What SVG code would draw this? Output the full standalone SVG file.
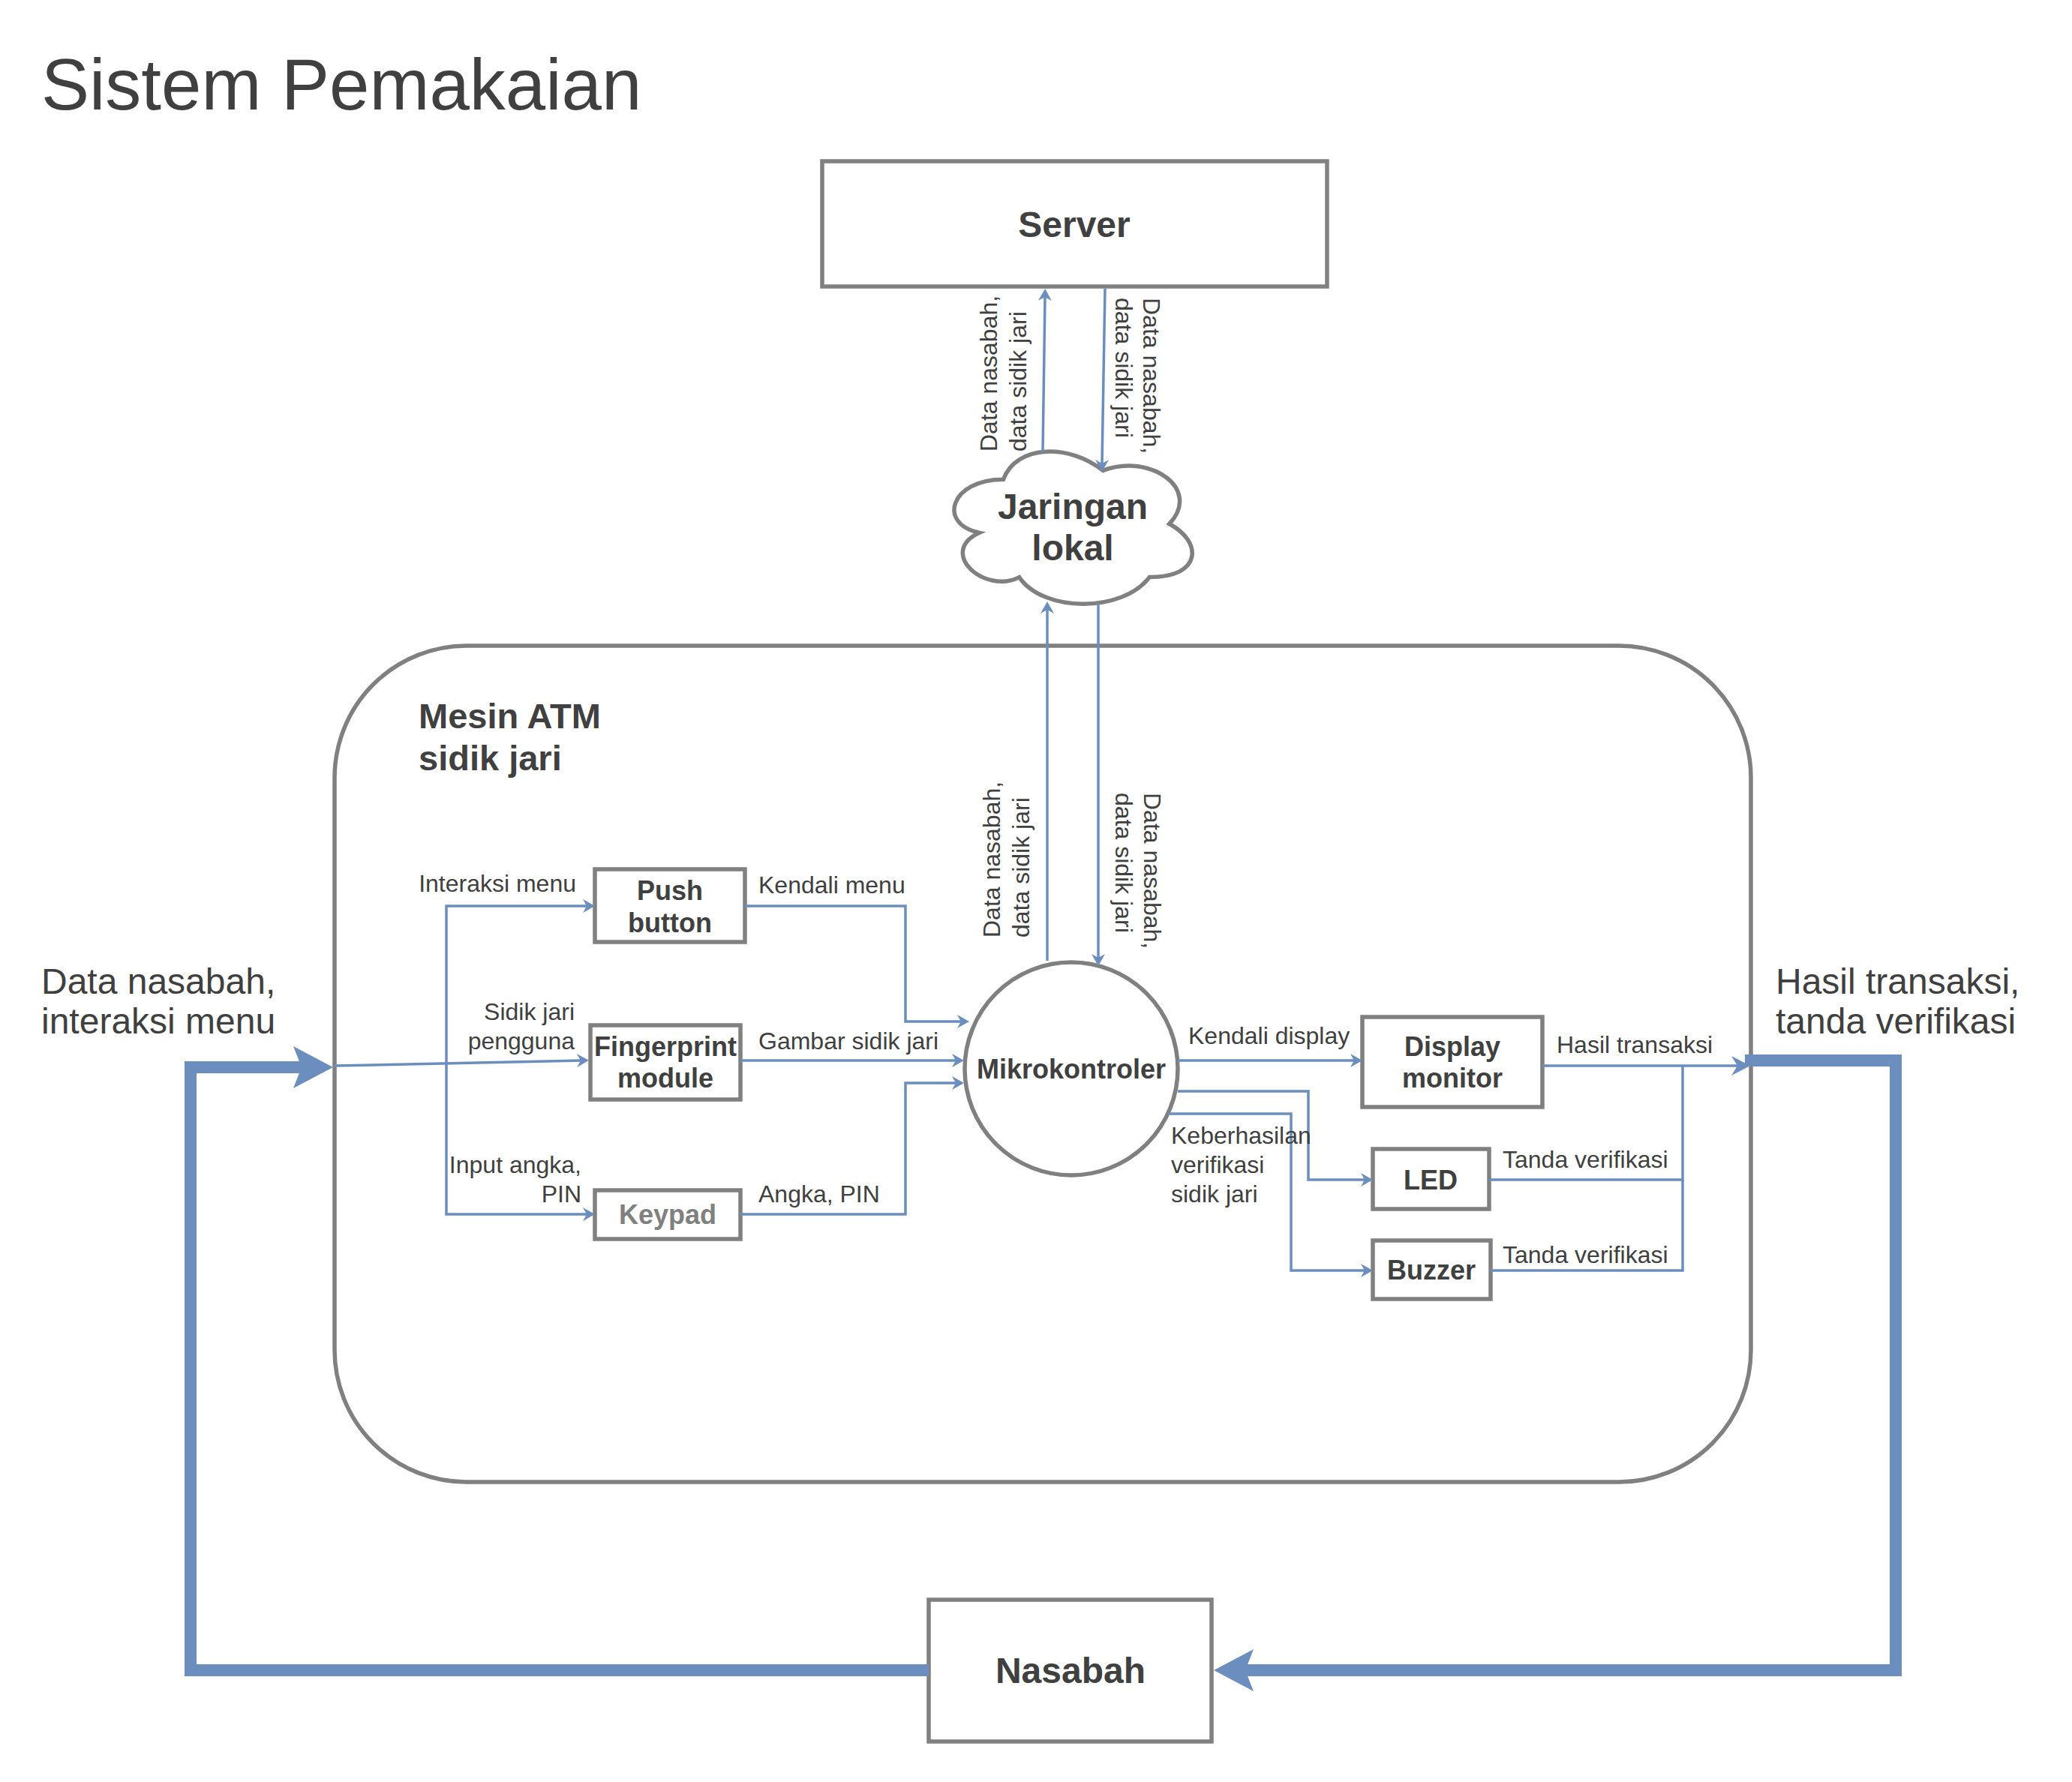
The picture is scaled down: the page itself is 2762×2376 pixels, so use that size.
<svg xmlns="http://www.w3.org/2000/svg" width="2762" height="2376" viewBox="0 0 2762 2376">
<style>
text{font-family:"Liberation Sans",Arial,sans-serif;fill:#404040}
.b{font-weight:bold}
.n{fill:#fff;stroke:#808080;stroke-width:5.5}
.c{fill:none;stroke:#6c8ebf;stroke-width:3.5}
.t{fill:none;stroke:#6c8ebf;stroke-width:16;stroke-linejoin:miter}
.s{font-size:32px}
.L{font-size:48px}
.m{font-size:36px;font-weight:bold;text-anchor:middle}
</style>
<defs>
<marker id="a" markerUnits="userSpaceOnUse" markerWidth="16" markerHeight="18" viewBox="0 0 16 18" refX="5" refY="9" orient="auto">
<path d="M0,0 L16,9 L0,18 L5,9 Z" fill="#6c8ebf"/>
</marker>
<marker id="M" markerUnits="userSpaceOnUse" markerWidth="25" markerHeight="26" viewBox="0 0 25 26" refX="8" refY="13" orient="auto">
<path d="M0,0 L25,13 L0,26 L8,13 Z" fill="#6c8ebf"/>
</marker>
<marker id="B" markerUnits="userSpaceOnUse" markerWidth="53" markerHeight="56" viewBox="0 0 53 56" refX="11" refY="28" orient="auto">
<path d="M0,0 L53,28 L0,56 L11,28 Z" fill="#6c8ebf"/>
</marker>
</defs>
<rect width="2762" height="2376" fill="#fff"/>
<text x="55" y="146" style="font-size:96px">Sistem Pemakaian</text>

<g id="container">
<rect class="n" x="446" y="861" width="1888" height="1115" rx="176" ry="176"/>
<text class="b" x="558" y="971" style="font-size:47px">Mesin ATM</text>
<text class="b" x="558" y="1027" style="font-size:47px">sidik jari</text>
</g>

<g id="server">
<rect class="n" x="1096" y="215" width="673" height="167"/>
<text class="b" x="1432" y="316" style="font-size:48px" text-anchor="middle">Server</text>
</g>

<g id="jaringan">
<path class="n" d="M1337.5,639.25 C1266.7,639.25 1249,698.5 1305.6,710.35 C1249,736.4 1312.7,793.3 1358.7,769.6 C1390.6,817 1496.8,817 1532.2,769.6 C1603,769.6 1603,722.2 1558.75,698.5 C1603,651.1 1532.2,603.7 1470.25,627.4 C1426,591.85 1355.2,591.85 1337.5,639.25 Z"/>
<text class="b" x="1430" y="692" style="font-size:48px" text-anchor="middle">Jaringan</text>
<text class="b" x="1430" y="747" style="font-size:48px" text-anchor="middle">lokal</text>
</g>

<g id="push-button">
<rect class="n" x="793" y="1159" width="200" height="97"/>
<text class="m" x="893" y="1200">Push</text>
<text class="m" x="893" y="1243">button</text>
</g>

<g id="fingerprint">
<rect class="n" x="787" y="1367" width="200" height="99"/>
<text class="m" x="887" y="1408">Fingerprint</text>
<text class="m" x="887" y="1450">module</text>
</g>

<g id="keypad">
<rect class="n" x="793" y="1587" width="194" height="65"/>
<text class="m" x="890" y="1632" style="fill:#808080">Keypad</text>
</g>

<g id="mikrokontroler">
<circle class="n" cx="1428" cy="1425" r="142"/>
<text class="m" x="1428" y="1438">Mikrokontroler</text>
</g>

<g id="display">
<rect class="n" x="1816" y="1356" width="240" height="120"/>
<text class="m" x="1936" y="1408">Display</text>
<text class="m" x="1936" y="1450">monitor</text>
</g>

<g id="led">
<rect class="n" x="1830" y="1532" width="155" height="80"/>
<text class="m" x="1907" y="1586">LED</text>
</g>

<g id="buzzer">
<rect class="n" x="1830" y="1654" width="157" height="78"/>
<text class="m" x="1908" y="1706">Buzzer</text>
</g>

<g id="nasabah">
<rect class="n" x="1238" y="2133" width="377" height="189"/>
<text class="b" x="1427" y="2244" style="font-size:48px" text-anchor="middle">Nasabah</text>
</g>

<g id="connectors">
<path class="c" d="M1390,603 L1393,396" marker-end="url(#a)"/>
<path class="c" d="M1473,385 L1469,618" marker-end="url(#a)"/>
<path class="c" d="M1396,1281 L1396,813" marker-end="url(#a)"/>
<path class="c" d="M1464,805 L1464,1277" marker-end="url(#a)"/>
<path class="c" d="M446,1421 L774,1414" marker-end="url(#a)"/>
<path class="c" d="M595,1419 L595,1208 L782,1208" marker-end="url(#a)"/>
<path class="c" d="M595,1419 L595,1619 L782,1619" marker-end="url(#a)"/>
<path class="c" d="M993,1208 L1207,1208 L1207,1362 L1281,1362" marker-end="url(#a)"/>
<path class="c" d="M987,1414 L1274,1414" marker-end="url(#a)"/>
<path class="c" d="M987,1619 L1207,1619 L1207,1444 L1274,1444" marker-end="url(#a)"/>
<path class="c" d="M1570,1414 L1805,1414" marker-end="url(#a)"/>
<path class="c" d="M1570,1455 L1744,1455 L1744,1573 L1819,1573" marker-end="url(#a)"/>
<path class="c" d="M1557,1485 L1721,1485 L1721,1694 L1819,1694" marker-end="url(#a)"/>
<path class="c" d="M2056,1421 L2316,1421" marker-end="url(#M)"/>
<path class="c" d="M1985,1573 L2243,1573 L2243,1421"/>
<path class="c" d="M1987,1694 L2243,1694 L2243,1573"/>
<path class="t" d="M1238,2227 L254,2227 L254,1423 L402,1423" marker-end="url(#B)"/>
<path class="t" d="M2326,1414 L2527,1414 L2527,2227 L1660,2227" marker-end="url(#B)"/>

<text class="s" transform="translate(1329,602) rotate(-90)">Data nasabah,</text>
<text class="s" transform="translate(1368,602) rotate(-90)">data sidik jari</text>
<text class="s" transform="translate(1524,397) rotate(90)">Data nasabah,</text>
<text class="s" transform="translate(1487,397) rotate(90)">data sidik jari</text>
<text class="s" transform="translate(1333,1250) rotate(-90)">Data nasabah,</text>
<text class="s" transform="translate(1372,1250) rotate(-90)">data sidik jari</text>
<text class="s" transform="translate(1525,1057) rotate(90)">Data nasabah,</text>
<text class="s" transform="translate(1487,1057) rotate(90)">data sidik jari</text>

<text class="s" x="768" y="1189" text-anchor="end">Interaksi menu</text>
<text class="s" x="766" y="1360" text-anchor="end">Sidik jari</text>
<text class="s" x="766" y="1399" text-anchor="end">pengguna</text>
<text class="s" x="775" y="1564" text-anchor="end">Input angka,</text>
<text class="s" x="775" y="1603" text-anchor="end">PIN</text>
<text class="s" x="1011" y="1191">Kendali menu</text>
<text class="s" x="1011" y="1399">Gambar sidik jari</text>
<text class="s" x="1011" y="1603">Angka, PIN</text>
<text class="s" x="1584" y="1392">Kendali display</text>
<text class="s" x="1561" y="1525">Keberhasilan</text>
<text class="s" x="1561" y="1564">verifikasi</text>
<text class="s" x="1561" y="1603">sidik jari</text>
<text class="s" x="2075" y="1404">Hasil transaksi</text>
<text class="s" x="2003" y="1557">Tanda verifikasi</text>
<text class="s" x="2003" y="1684">Tanda verifikasi</text>

<text class="L" x="55" y="1325">Data nasabah,</text>
<text class="L" x="55" y="1378">interaksi menu</text>
<text class="L" x="2367" y="1325">Hasil transaksi,</text>
<text class="L" x="2367" y="1378">tanda verifikasi</text>
</g>
</svg>
